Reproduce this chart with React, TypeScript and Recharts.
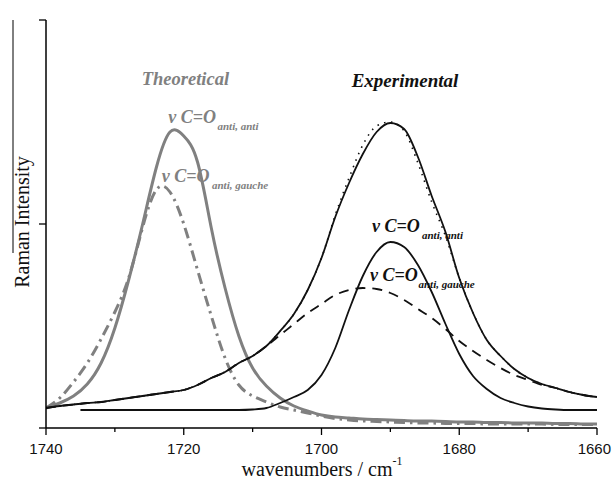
import React from 'react';
import { LineChart, Line, XAxis, YAxis } from 'recharts';

// wavenumbers (cm-1), step 2, high to low
const wave = [
  1740, 1738, 1736, 1734, 1732, 1730, 1728, 1726, 1724, 1722, 1720, 1718, 1716, 1714,
  1712, 1710, 1708, 1706, 1704, 1702, 1700, 1698, 1696, 1694, 1692, 1690, 1688, 1686,
  1684, 1682, 1680, 1678, 1676, 1674, 1672, 1670, 1668, 1666, 1664, 1662, 1660,
];

// theoretical bands (grey)
const theoAnti = [
  20, 25, 32, 44, 65, 100, 148, 203, 260, 296, 292, 266, 200, 140,
  92, 60, 42, 30, 22, 17, 13, 11, 10, 9, 8.5, 8, 7.5, 7,
  7, 6.5, 6, 6, 5.5, 5.5, 5, 5, 5, 4.5, 4.5, 4, 4,
];
const theoGauche = [
  20, 30, 46, 65, 89, 116, 150, 200, 238, 236, 204, 158, 112, 70,
  43, 32, 26, 21, 18, 15, 12, 9.5, 8, 7, 6.5, 6, 5.5, 5,
  5, 4.5, 4.5, 4.5, 4, 4, 4, 4, 4, 3.5, 3.5, 3.5, 3.5,
];

// experimental spectrum (dots) and its fitted envelope (solid)
const expData = [
  20, 22, 23.5, 25, 26, 28, 30, 32, 34, 36, 38, 43, 50, 56,
  65, 72, 82, 97, 114, 138, 170, 213, 250, 283, 302, 306, 297, 265,
  226, 192, 150, 115, 88, 72, 59, 50, 44, 40, 36, 33, 31,
];
const expFit = [
  20, 22, 23.5, 25, 26, 28, 30, 32, 34, 36, 38, 43, 50, 56,
  65, 72, 82, 97, 114, 138, 170, 211, 245, 274, 296, 305, 299, 271,
  232, 196, 150, 115, 88, 72, 59, 50, 44, 40, 36, 33, 31,
];
// fitted anti,gauche component (dashed)
const fitGauche = [
  20, 22, 23.5, 25, 26, 28, 30, 32, 34, 36, 38, 43, 50, 56,
  65, 72, 82, 93, 104, 115, 124, 133, 138, 140, 139, 135, 128, 119,
  110, 99, 87, 77, 68, 60, 53, 48, 43, 40, 36, 33, 31,
];
// fitted anti,anti component starts at 1735
const waveAnti = [
  1735, 1734, 1732, 1730, 1728, 1726, 1724, 1722, 1720, 1718, 1716, 1714, 1712, 1710,
  1708, 1706, 1704, 1702, 1700, 1698, 1696, 1694, 1692, 1690, 1688, 1686, 1684, 1682,
  1680, 1678, 1676, 1674, 1672, 1670, 1668, 1666, 1664, 1662, 1660,
];
const fitAnti = [
  18, 18, 18, 18, 18, 18, 18, 18, 18, 18, 18, 18, 18, 18.5,
  20, 25, 31, 38, 53, 80, 118, 152, 176, 186, 181, 163, 136, 104,
  74, 52, 39, 30, 25, 21.5, 19.5, 18.5, 18, 18, 18,
];

const xTicks = [1740, 1730, 1720, 1710, 1700, 1690, 1680, 1670, 1660];
const yTicks = [0, 204, 408];

const rows = wave.map((w, i) => ({
  wave: w,
  theoAnti: theoAnti[i],
  theoGauche: theoGauche[i],
  expData: expData[i],
  expFit: expFit[i],
  fitGauche: fitGauche[i],
}));
const antiRows = waveAnti.map((w, i) => ({ wave: w, fitAnti: fitAnti[i] }));

const GREY = '#808080';
const SERIF = '"Liberation Serif", "Times New Roman", serif';
const SANS = '"Liberation Sans", Arial, sans-serif';

function XTick(props: any) {
  const { x, y, payload } = props;
  const major = payload.value % 20 === 0;
  // last label sits on the window edge, keep it inside
  const last = payload.value === 1660;
  return (
    <g>
      <line x1={x} x2={x} y1={y} y2={y + (major ? 7 : 4)} stroke="#000" strokeWidth={1.3} />
      {major && (
        <text
          x={last ? x + 14 : x}
          y={y + 26}
          textAnchor={last ? 'end' : 'middle'}
          fontFamily={SANS}
          fontSize={15}
          fill="#111"
        >
          {payload.value}
        </text>
      )}
    </g>
  );
}

function YTick(props: any) {
  const { x, y } = props;
  return <line x1={x - 7} x2={x} y1={y} y2={y} stroke="#000" strokeWidth={1.3} />;
}

function Band({ x, y, sub, subX, subY, color }: any) {
  return (
    <g fill={color} fontFamily={SERIF} fontWeight="bold" fontStyle="italic">
      <text x={x} y={y} fontSize={18}>ν C=O</text>
      <text x={subX} y={subY} fontSize={11}>{sub}</text>
    </g>
  );
}

export default function App() {
  // fixed to the window so the page never gets scrollbars
  return (
    <div style={{ position: 'fixed', left: 0, top: 0, width: 612, height: 486, background: '#fff' }}>
      <LineChart width={612} height={486} data={rows} margin={{ top: 20, right: 15, bottom: 28, left: 16 }}>
        <XAxis
          dataKey="wave"
          type="number"
          domain={[1660, 1740]}
          reversed
          ticks={xTicks}
          interval={0}
          height={30}
          tickSize={0}
          tickMargin={0}
          tickLine={false}
          tick={<XTick />}
          axisLine={{ stroke: '#000', strokeWidth: 1.5 }}
          allowDataOverflow
        />
        <YAxis
          type="number"
          domain={[0, 408]}
          ticks={yTicks}
          interval={0}
          width={30}
          tickSize={0}
          tickMargin={0}
          tickLine={false}
          tick={<YTick />}
          axisLine={{ stroke: '#000', strokeWidth: 1.5 }}
        />
        <Line dataKey="theoGauche" type="natural" stroke={GREY} strokeWidth={3} strokeDasharray="11 5 2.5 5" dot={false} activeDot={false} isAnimationActive={false} />
        <Line dataKey="theoAnti" type="natural" stroke={GREY} strokeWidth={3} dot={false} activeDot={false} isAnimationActive={false} />
        <Line data={antiRows} dataKey="fitAnti" type="monotone" stroke="#111" strokeWidth={1.8} dot={false} activeDot={false} isAnimationActive={false} />
        <Line dataKey="fitGauche" type="monotone" stroke="#111" strokeWidth={1.8} strokeDasharray="10 7" dot={false} activeDot={false} isAnimationActive={false} />
        <Line dataKey="expFit" type="monotone" stroke="#111" strokeWidth={1.8} dot={false} activeDot={false} isAnimationActive={false} />
        <Line dataKey="expData" type="monotone" stroke="#111" strokeWidth={1.6} strokeDasharray="1.5 5.5" dot={false} activeDot={false} isAnimationActive={false} />
      </LineChart>
      <svg width={612} height={486} style={{ position: 'absolute', left: 0, top: 0, pointerEvents: 'none' }}>
        <line x1={13} x2={13} y1={20} y2={253} stroke="#000" strokeWidth={1} />
        <text x={29} y={222} transform="rotate(-90 29 222)" textAnchor="middle" fontFamily={SERIF} fontSize={20} fill="#111">
          Raman Intensity
        </text>
        <text x={322} y={476} textAnchor="middle" fontFamily={SERIF} fontSize={20} fill="#111">
          wavenumbers / cm<tspan fontSize={12} dy={-11}>-1</tspan>
        </text>
        <text x={141.7} y={85} fontFamily={SERIF} fontSize={18.5} fontWeight="bold" fontStyle="italic" fill={GREY}>
          Theoretical
        </text>
        <text x={351.7} y={86.7} fontFamily={SERIF} fontSize={19} fontWeight="bold" fontStyle="italic" fill="#111">
          Experimental
        </text>
        <Band x={168.3} y={123.3} sub="anti, anti" subX={217.5} subY={130} color={GREY} />
        <Band x={161.7} y={181.7} sub="anti, gauche" subX={212} subY={189.3} color={GREY} />
        <Band x={372} y={232} sub="anti, anti" subX={422} subY={239} color="#111" />
        <Band x={370} y={281} sub="anti, gauche" subX={418.5} subY={288} color="#111" />
      </svg>
    </div>
  );
}
